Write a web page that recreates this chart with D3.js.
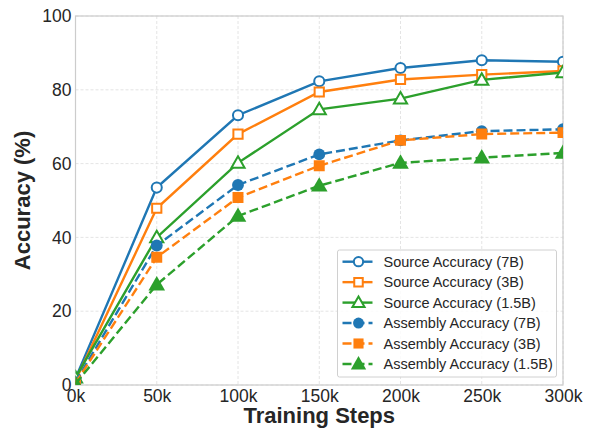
<!DOCTYPE html>
<html>
<head>
<meta charset="utf-8">
<script src="https://cdn.jsdelivr.net/npm/d3@7"></script>
<style>
  body { margin: 0; background: #fff; }
  text { font-family: "Liberation Sans", Arial, sans-serif; fill: #262626; }
</style>
</head>
<body>
<div id="chart"></div>
<script>
// training steps (k)
var steps = [0, 50, 100, 150, 200, 250, 300];
var stepLabels = ["0k", "50k", "100k", "150k", "200k", "250k", "300k"];
var yTicks = [0, 20, 40, 60, 80, 100];

// accuracy values (%)
var source7B = [1.8, 53.5, 73.1, 82.3, 85.9, 88.0, 87.6];
var source3B = [1.2, 47.9, 68.0, 79.4, 82.8, 84.1, 85.1];
var source15B = [2.0, 40.0, 60.2, 74.7, 77.6, 82.7, 84.7];
var asm7B = [0.8, 37.8, 54.2, 62.5, 66.3, 68.8, 69.3];
var asm3B = [0.5, 34.6, 50.8, 59.4, 66.3, 68.0, 68.4];
var asm15B = [0.3, 27.2, 45.8, 54.0, 60.2, 61.6, 62.9];

var seriesNames = ["Source Accuracy (7B)", "Source Accuracy (3B)", "Source Accuracy (1.5B)",
                   "Assembly Accuracy (7B)", "Assembly Accuracy (3B)", "Assembly Accuracy (1.5B)"];

var series = [
  {name: seriesNames[0], values: source7B, color: "#1f77b4", marker: "circle", filled: false, dashed: false},
  {name: seriesNames[1], values: source3B, color: "#ff7f0e", marker: "square", filled: false, dashed: false},
  {name: seriesNames[2], values: source15B, color: "#2ca02c", marker: "triangle", filled: false, dashed: false},
  {name: seriesNames[3], values: asm7B, color: "#1f77b4", marker: "circle", filled: true, dashed: true},
  {name: seriesNames[4], values: asm3B, color: "#ff7f0e", marker: "square", filled: true, dashed: true},
  {name: seriesNames[5], values: asm15B, color: "#2ca02c", marker: "triangle", filled: true, dashed: true}
];

var W = 591, H = 430;
var margin = {top: 16, right: 28, bottom: 45, left: 75.5};
var width = W - margin.left - margin.right,
    height = H - margin.top - margin.bottom;

var x = d3.scaleLinear().domain([0, 300]).range([0, width]);
var y = d3.scaleLinear().domain([0, 100]).range([height, 0]);

var svg = d3.select("#chart").append("svg")
    .attr("width", W)
    .attr("height", H)
  .append("g")
    .attr("transform", "translate(" + margin.left + "," + margin.top + ")");

svg.append("clipPath").attr("id", "clip")
  .append("rect").attr("width", width).attr("height", height);

// grid
svg.append("g")
  .selectAll("line").data(steps).enter().append("line")
    .attr("x1", function(d) { return x(d); }).attr("x2", function(d) { return x(d); })
    .attr("y1", 0).attr("y2", height)
    .attr("stroke", "#dddddd").attr("stroke-width", 0.8).attr("stroke-dasharray", "3,2");
svg.append("g")
  .selectAll("line").data(yTicks).enter().append("line")
    .attr("y1", function(d) { return y(d); }).attr("y2", function(d) { return y(d); })
    .attr("x1", 0).attr("x2", width)
    .attr("stroke", "#dddddd").attr("stroke-width", 0.8).attr("stroke-dasharray", "3,2");

// axes
var xAxis = svg.append("g")
    .attr("transform", "translate(0," + height + ")")
    .call(d3.axisBottom(x).tickValues(steps).tickFormat(function(d, i) { return stepLabels[i]; }).tickSize(0).tickPadding(5));
var yAxis = svg.append("g")
    .call(d3.axisLeft(y).tickValues(yTicks).tickSize(0).tickPadding(4));
[xAxis, yAxis].forEach(function(a) {
  a.select(".domain").remove();
  a.selectAll("text").style("font-size", "17.5px").attr("fill", "#262626")
    .style("font-family", "'Liberation Sans', Arial, sans-serif");
});

// frame
svg.append("rect").attr("width", width).attr("height", height)
  .attr("fill", "none").attr("stroke", "#cccccc").attr("stroke-width", 1.2);

// axis titles
svg.append("text")
  .attr("x", width / 2).attr("y", height + 38)
  .attr("text-anchor", "middle")
  .style("font-size", "22px").style("font-weight", "bold")
  .text("Training Steps");
svg.append("text")
  .attr("transform", "translate(" + (-46) + "," + (height / 2) + ") rotate(-90)")
  .attr("text-anchor", "middle")
  .style("font-size", "22px").style("font-weight", "bold")
  .text("Accuracy (%)");

function markerPath(type, size) {
  var sym = type === "circle" ? d3.symbolCircle : type === "square" ? d3.symbolSquare : d3.symbolTriangle;
  return d3.symbol().type(sym).size(size)();
}
function markerSize(s) {
  if (s.filled) return s.marker === "circle" ? 110 : s.marker === "square" ? 120 : 120;
  return s.marker === "circle" ? 80 : s.marker === "square" ? 85 : 75;
}

var line = d3.line()
    .x(function(d, i) { return x(steps[i]); })
    .y(function(d) { return y(d); });

var plot = svg.append("g").attr("clip-path", "url(#clip)");

series.forEach(function(s) {
  var g = plot.append("g");
  g.append("path")
    .datum(s.values)
    .attr("d", line)
    .attr("fill", "none")
    .attr("stroke", s.color)
    .attr("stroke-width", 2.4)
    .attr("stroke-dasharray", s.dashed ? "9,4" : null);
  g.selectAll("path.m").data(s.values).enter().append("path")
    .attr("class", "m")
    .attr("d", markerPath(s.marker, markerSize(s)))
    .attr("transform", function(d, i) {
      var dy = s.marker === "triangle" ? 1 : 0;
      return "translate(" + x(steps[i]) + "," + (y(d) + dy) + ")";
    })
    .attr("fill", s.filled ? s.color : "#ffffff")
    .attr("stroke", s.color)
    .attr("stroke-width", s.filled ? 0 : 2);
});

// legend
var lgX = 337.5 - margin.left, lgY = 250 - margin.top;
var legend = svg.append("g").attr("transform", "translate(" + lgX + "," + lgY + ")");
legend.append("rect")
  .attr("width", 219).attr("height", 127).attr("rx", 2)
  .attr("fill", "#ffffff").attr("fill-opacity", 0.85)
  .attr("stroke", "#d0d0d0").attr("stroke-width", 1);
series.forEach(function(s, i) {
  var row = legend.append("g").attr("transform", "translate(0," + (11.7 + i * 20.45) + ")");
  row.append("line")
    .attr("x1", 5).attr("x2", 35).attr("y1", 0).attr("y2", 0)
    .attr("stroke", s.color).attr("stroke-width", 2.4)
    .attr("stroke-dasharray", s.dashed ? "9,4" : null);
  row.append("path")
    .attr("d", markerPath(s.marker, markerSize(s) * 0.85))
    .attr("transform", "translate(21," + (s.marker === "triangle" ? 1 : 0) + ")")
    .attr("fill", s.filled ? s.color : "#ffffff")
    .attr("stroke", s.color)
    .attr("stroke-width", s.filled ? 0 : 2);
  row.append("text")
    .attr("x", 46).attr("y", 0).attr("dy", "0.35em")
    .style("font-size", "14.5px")
    .text(s.name);
});
</script>
</body>
</html>
